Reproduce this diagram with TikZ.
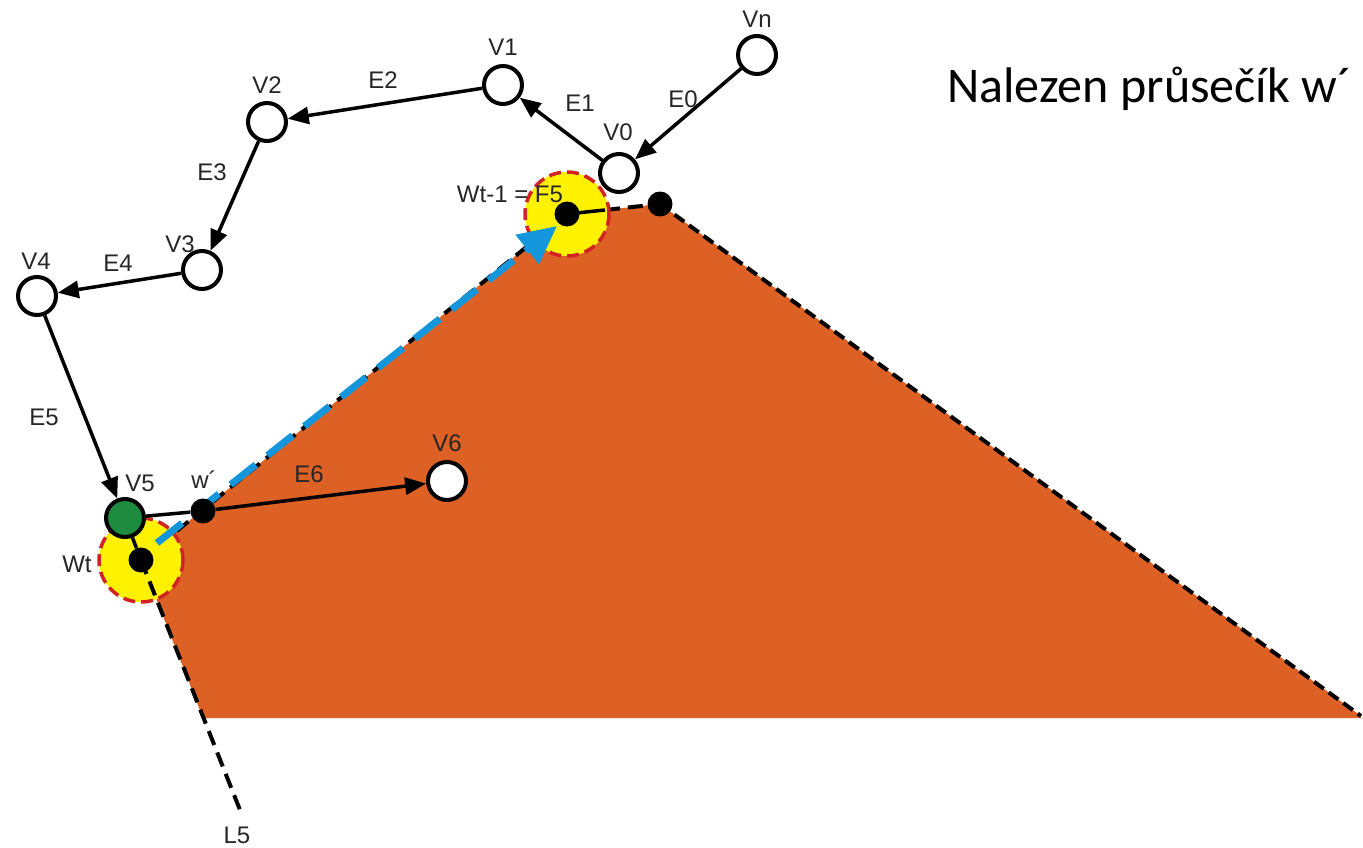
\documentclass[tikz,border=0pt]{standalone}
\usepackage{fontspec}
\newfontfamily\lab{Liberation Sans}
\newfontfamily\ttl{Carlito}
\usetikzlibrary{arrows.meta}
\definecolor{orng}{RGB}{221,97,36}
\definecolor{grn}{RGB}{30,140,62}
\definecolor{yel}{RGB}{255,242,0}
\definecolor{redd}{RGB}{210,35,35}
\definecolor{blu}{RGB}{20,150,220}
\tikzset{
  vert/.style={circle,draw=black,line width=4pt,fill=white,minimum size=38pt,inner sep=0pt},
  dot/.style={circle,fill=black,minimum size=25pt,inner sep=0pt},
  halo/.style={circle,draw=redd,fill=yel,line width=3.5pt,dash pattern=on 12pt off 6pt,minimum size=84pt,inner sep=0pt},
  edge/.style={line width=3.5pt,-{Triangle[length=21pt,width=17pt]}},
  plain/.style={line width=3.5pt},
  bdash/.style={line width=4pt,dash pattern=on 15pt off 8pt},
  lbl/.style={font=\lab\fontsize{24}{28}\selectfont,inner sep=0pt,text=black!85},
}
\begin{document}
\begin{tikzpicture}[x=1pt,y=-1pt]
\useasboundingbox (0,0) rectangle (1363,848);
% key coordinates
\coordinate (cWt) at (141,560);
\coordinate (cWt1) at (567,214);
\coordinate (cP) at (660,204);
\coordinate (cBR) at (1361,716);
\coordinate (cBR2) at (1361,718);
\coordinate (cBL) at (203,718);
\coordinate (cL5) at (240,810);
\coordinate (cStub) at (605,210);
% orange region
\fill[orng] (cWt) -- (cWt1) -- (cP) -- (cBR) -- (cBR2) -- (cBL) -- cycle;
% dashed boundary lines
\draw[bdash] (cWt) -- (cWt1);
\draw[bdash] (cStub) -- (cP);
\draw[line width=4pt,dash pattern=on 12pt off 6pt] (cP) -- (cBR);
% yellow halos
\node[halo] (HWt) at (cWt) {};
\node[halo] (HWt1) at (cWt1) {};
% L5 line
\draw[bdash] (cWt) -- (cL5);
% blue dashed arrow
\coordinate (bS) at (157,543);
\coordinate (bE) at (557,226);
\draw[blu,line width=7pt,dash pattern=on 32pt off 15pt,-{Triangle[length=38pt,width=36pt]}] (bS) -- (bE);
% vertices
\node[vert] (Vn) at (757,55) {};
\node[vert] (V0) at (619,173) {};
\node[vert] (V1) at (503,85) {};
\node[vert] (V2) at (267,122) {};
\node[vert] (V3) at (202,270) {};
\node[vert] (V4) at (37,296) {};
\node[vert,fill=grn] (V5) at (125,518) {};
\node[vert] (V6) at (447,481) {};
% dots
\node[dot] (Wt) at (cWt) {};
\node[dot] (Wt1) at (cWt1) {};
\node[dot] (P) at (cP) {};
\node[dot] (wp) at (203,511) {};
% edges
\draw[edge] (Vn) -- (V0);
\draw[edge] (V0) -- (V1);
\draw[edge] (V1) -- (V2);
\draw[edge] (V2) -- (V3);
\draw[edge] (V3) -- (V4);
\draw[edge] (V4) -- (V5);
\draw[plain] (V5) -- (wp);
\draw[edge] (wp) -- (V6);
\draw[plain] (V5) -- (Wt);
\draw[plain] (Wt1.center) -- (cStub);
% labels
\node[lbl] (lVn) at (757,19) {Vn};
\node[lbl] (lV1) at (503,47) {V1};
\node[lbl] (lV2) at (267,85) {V2};
\node[lbl] (lV0) at (618,132) {V0};
\node[lbl] (lE0) at (683,99) {E0};
\node[lbl] (lE1) at (580,103) {E1};
\node[lbl] (lE2) at (383,80) {E2};
\node[lbl] (lE3) at (212,172) {E3};
\node[lbl] (lV3) at (180,244) {V3};
\node[lbl] (lE4) at (118,263) {E4};
\node[lbl] (lV4) at (36,261) {V4};
\node[lbl] (lE5) at (44,417) {E5};
\node[lbl] (lV5) at (140,483) {V5};
\node[lbl] (lwp) at (204,480) {w\char"00B4};
\node[lbl] (lE6) at (309,474) {E6};
\node[lbl] (lV6) at (447,443) {V6};
\node[lbl] (lWt) at (77,564) {Wt};
\node[lbl] (lWt1) at (510,194) {Wt-1 = F5};
\node[lbl] (lL5) at (237,835) {L5};
\node[font=\ttl\fontsize{50}{60}\selectfont,anchor=base west,inner sep=0pt] (title) at (947,103) {Nalezen průsečík w\char"00B4};
\end{tikzpicture}
\end{document}
